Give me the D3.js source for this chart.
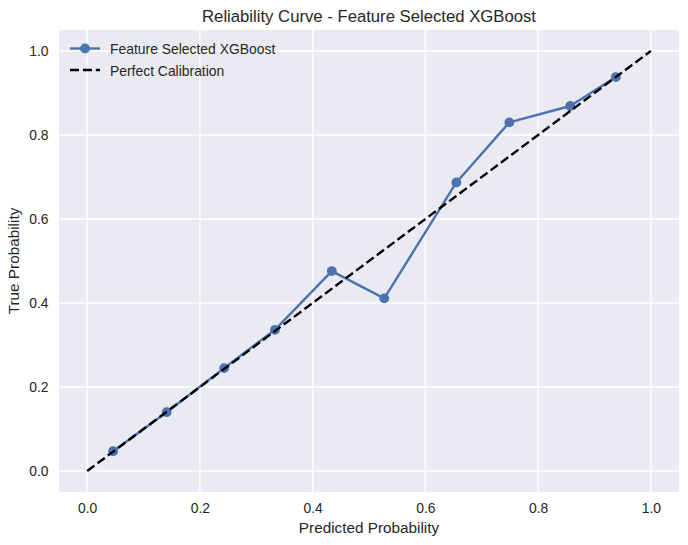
<!DOCTYPE html>
<html lang="en">
<head>
<meta charset="utf-8">
<title>Reliability Curve - Feature Selected XGBoost</title>
<style>
  body { margin: 0; background: #ffffff; }
  svg text { font-family: "Liberation Sans", Arial, sans-serif; fill: #262626; }
</style>
</head>
<body>
<div id="chart"></div>
<script src="https://cdnjs.cloudflare.com/ajax/libs/d3/7.8.5/d3.min.js"></script>
<script>
// values
var predicted = [0.046, 0.141, 0.243, 0.333, 0.434, 0.527, 0.655, 0.749, 0.857, 0.938];
var trueProb  = [0.047, 0.140, 0.245, 0.336, 0.476, 0.411, 0.687, 0.830, 0.869, 0.938];
var perfectLine = [0, 1];
var xTicks = [0, 0.2, 0.4, 0.6, 0.8, 1.0];
var yTicks = [0, 0.2, 0.4, 0.6, 0.8, 1.0];
var seriesName = "Feature Selected XGBoost";
var refName = "Perfect Calibration";

var width = 688, height = 545;
var plotLeft = 59, plotRight = 679, plotTop = 30, plotBottom = 492;

var svg = d3.select("#chart").append("svg")
    .attr("width", width)
    .attr("height", height);

var x = d3.scaleLinear().domain([-0.05, 1.05]).range([plotLeft, plotRight]);
var y = d3.scaleLinear().domain([-0.05, 1.05]).range([plotBottom, plotTop]);

// plot background
svg.append("rect")
    .attr("x", plotLeft).attr("y", plotTop)
    .attr("width", plotRight - plotLeft).attr("height", plotBottom - plotTop)
    .attr("fill", "#EAEAF2");

// grid
svg.append("g").selectAll("line").data(xTicks).enter().append("line")
    .attr("x1", function(d){ return x(d); }).attr("x2", function(d){ return x(d); })
    .attr("y1", plotTop).attr("y2", plotBottom)
    .attr("stroke", "white").attr("stroke-width", 1.4);
svg.append("g").selectAll("line").data(yTicks).enter().append("line")
    .attr("y1", function(d){ return y(d); }).attr("y2", function(d){ return y(d); })
    .attr("x1", plotLeft).attr("x2", plotRight)
    .attr("stroke", "white").attr("stroke-width", 1.4);

// axes (labels only, no spines)
var xAxis = svg.append("g")
    .attr("transform", "translate(0," + plotBottom + ")")
    .call(d3.axisBottom(x).tickValues(xTicks).tickFormat(d3.format(".1f")).tickSize(0).tickPadding(11));
var yAxis = svg.append("g")
    .attr("transform", "translate(" + plotLeft + ",0)")
    .call(d3.axisLeft(y).tickValues(yTicks).tickFormat(d3.format(".1f")).tickSize(0).tickPadding(10.5));
[xAxis, yAxis].forEach(function(a){
    a.select(".domain").remove();
    a.selectAll("text").attr("font-size", 13.9).attr("fill", "#262626")
        .attr("font-family", "Liberation Sans, Arial, sans-serif");
});

// model curve
var pts = predicted.map(function(p, i){ return [p, trueProb[i]]; });
var line = d3.line().x(function(d){ return x(d[0]); }).y(function(d){ return y(d[1]); });
svg.append("path")
    .datum(pts)
    .attr("d", line)
    .attr("fill", "none")
    .attr("stroke", "#4C72B0")
    .attr("stroke-width", 2.4)
    .attr("stroke-linejoin", "round");
svg.append("g").selectAll("circle").data(pts).enter().append("circle")
    .attr("cx", function(d){ return x(d[0]); })
    .attr("cy", function(d){ return y(d[1]); })
    .attr("r", 4.9)
    .attr("fill", "#4C72B0");

// perfect calibration diagonal
svg.append("path")
    .datum(perfectLine.map(function(v){ return [v, v]; }))
    .attr("d", line)
    .attr("fill", "none")
    .attr("stroke", "black")
    .attr("stroke-width", 2.4)
    .attr("stroke-dasharray", "9,3.9");

// legend
var lg = svg.append("g");
lg.append("line").attr("x1", 70).attr("x2", 100).attr("y1", 48.5).attr("y2", 48.5)
    .attr("stroke", "#4C72B0").attr("stroke-width", 2.4);
lg.append("circle").attr("cx", 85).attr("cy", 48.5).attr("r", 4.9).attr("fill", "#4C72B0");
lg.append("text").attr("x", 110).attr("y", 54).attr("font-size", 13.9).text(seriesName);
lg.append("line").attr("x1", 70).attr("x2", 100).attr("y1", 70).attr("y2", 70)
    .attr("stroke", "black").attr("stroke-width", 2.4).attr("stroke-dasharray", "9,3.9");
lg.append("text").attr("x", 110).attr("y", 75.5).attr("font-size", 13.9).text(refName);

// title and axis labels
svg.append("text")
    .attr("x", (plotLeft + plotRight) / 2).attr("y", 22)
    .attr("text-anchor", "middle").attr("font-size", 16.7)
    .text("Reliability Curve - Feature Selected XGBoost");
svg.append("text")
    .attr("x", (plotLeft + plotRight) / 2).attr("y", 533)
    .attr("text-anchor", "middle").attr("font-size", 15.3)
    .text("Predicted Probability");
svg.append("text")
    .attr("transform", "translate(19," + ((plotTop + plotBottom) / 2) + ") rotate(-90)")
    .attr("text-anchor", "middle").attr("font-size", 15.3)
    .text("True Probability");
</script>
</body>
</html>
